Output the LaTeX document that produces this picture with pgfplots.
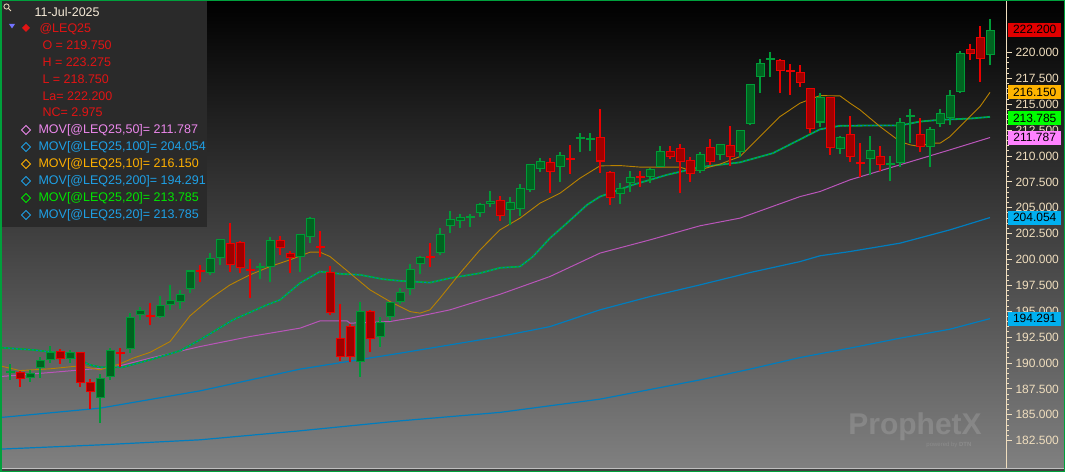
\documentclass[border=0pt]{standalone}
\usepackage{pgfplots}
\pgfplotsset{compat=1.18}
\usepackage{pgfplotstable}
\usepackage{fontspec}
\setmainfont{Liberation Sans}

\definecolor{upedge}{RGB}{0,155,55}
\definecolor{upfill}{RGB}{0,100,32}
\definecolor{dnedge}{RGB}{235,0,0}
\definecolor{dnfill}{RGB}{160,0,0}
\definecolor{maten}{RGB}{185,130,0}
\definecolor{matwenty}{RGB}{0,175,40}
\definecolor{mablue}{RGB}{0,125,190}
\definecolor{mafifty}{RGB}{185,85,185}
\definecolor{cream}{RGB}{240,222,190}
\definecolor{bgbot}{RGB}{128,128,128}
\definecolor{legbg}{RGB}{42,42,42}
\definecolor{legred}{RGB}{225,20,20}
\definecolor{legpink}{RGB}{235,135,235}
\definecolor{legblue}{RGB}{30,160,230}
\definecolor{legorange}{RGB}{255,176,0}
\definecolor{leggreen}{RGB}{0,230,0}
\definecolor{frame}{RGB}{0,160,60}
\definecolor{tagred}{RGB}{225,0,0}
\definecolor{tagorange}{RGB}{255,180,0}
\definecolor{taggreen}{RGB}{0,255,0}
\definecolor{tagpink}{RGB}{255,130,255}
\definecolor{tagblue}{RGB}{0,176,240}

% up candles (green): index, open, high, low, close
\pgfplotstableread{
k O H L C
1 189.05 189.92 188.38 189.15
3 188.54 189.34 188.21 189.08
4 189.51 190.63 188.54 190.31
5 190.31 191.66 189.99 191.11
7 190.38 191.27 190.05 191.11
10 186.61 188.95 184.19 188.54
11 188.69 191.44 188.37 191.27
13 191.37 194.82 191.00 194.43
14 194.66 195.40 194.17 195.14
16 194.43 196.49 194.34 195.62
17 195.62 197.55 195.14 196.10
18 195.94 197.07 195.21 196.68
19 197.14 199.00 196.75 198.94
21 198.74 200.62 198.52 200.13
22 200.13 202.00 199.49 201.97
26 199.20 199.65 198.11 199.30
27 199.32 202.16 197.87 201.90
30 200.29 202.48 198.84 202.45
31 202.22 204.09 201.64 203.99
36 190.14 195.85 188.64 195.07
38 192.56 194.43 191.59 193.95
39 194.43 195.90 194.10 195.88
40 195.85 197.24 195.72 196.91
41 197.14 199.58 196.59 199.07
42 199.58 200.36 198.62 200.23
44 200.62 203.03 200.45 202.48
45 203.26 204.73 202.55 203.93
46 203.77 204.42 203.03 204.15
47 204.10 204.42 203.19 204.20
48 204.48 205.45 204.09 205.38
49 205.38 206.67 205.12 205.70
51 204.80 206.03 203.35 205.60
52 204.87 207.31 204.22 206.90
53 206.73 209.25 206.57 209.22
54 208.73 209.79 208.50 209.53
56 208.93 210.43 207.54 210.11
58 211.70 212.27 210.43 211.80
59 211.60 212.27 210.53 211.70
62 206.35 207.38 205.38 206.90
63 207.38 208.57 206.57 208.02
65 207.96 208.83 207.38 208.73
66 208.98 210.98 208.93 210.53
70 208.57 210.43 208.34 210.21
72 210.11 211.20 209.63 211.15
74 210.43 212.55 209.89 212.53
75 213.11 217.00 213.02 216.98
76 217.62 219.36 216.08 219.03
77 219.30 220.10 217.62 219.40
82 213.24 216.08 212.85 215.69
84 210.67 211.95 210.21 211.88
87 209.70 211.95 208.18 210.60
89 209.20 210.02 207.63 209.30
90 209.37 213.66 208.98 213.33
91 213.80 214.53 211.24 213.90
93 210.86 212.79 208.93 212.63
94 213.11 214.53 212.85 214.14
95 213.66 216.40 213.02 215.91
96 216.23 220.19 216.08 220.00
99 219.75 223.275 218.75 222.20
}\up

% down candles (red)
\pgfplotstableread{
k O H L C
2 189.12 189.20 187.73 188.47
6 191.21 191.37 189.92 190.38
8 191.05 191.10 187.73 188.06
9 188.15 188.44 185.57 187.24
12 191.00 191.44 189.66 190.90
15 194.55 195.79 193.69 194.45
20 198.90 199.49 197.87 198.80
23 201.58 203.52 198.84 199.49
24 201.74 201.80 198.69 199.17
25 199.05 200.04 196.27 198.95
28 201.90 202.29 200.45 201.10
29 200.62 200.84 198.68 200.13
32 201.25 202.77 200.23 201.15
33 198.84 199.39 194.66 194.82
34 192.40 195.72 190.24 190.57
35 193.59 193.79 190.14 190.57
37 195.07 195.10 191.11 192.34
43 200.30 201.58 199.32 200.20
50 205.77 206.15 203.77 204.22
55 209.41 209.79 206.47 208.44
57 209.80 211.08 208.28 209.70
60 211.83 214.56 208.40 209.47
61 208.50 208.55 205.28 205.93
64 208.00 208.60 207.05 207.90
67 210.53 210.98 209.70 209.89
68 210.82 211.18 206.41 209.41
69 209.63 209.89 207.54 208.25
71 210.86 211.63 209.15 209.41
73 211.08 212.92 209.05 209.89
78 219.29 219.36 216.08 218.26
79 218.30 218.91 215.91 218.20
80 218.11 218.81 216.71 217.04
81 216.56 216.60 212.27 212.60
83 215.69 215.70 210.11 210.76
85 212.14 213.88 209.47 209.89
86 209.40 211.30 208.02 209.30
88 210.05 210.98 208.60 209.15
92 212.14 213.66 210.43 210.86
97 220.33 220.84 219.29 219.87
98 221.55 222.58 217.20 219.36
}\down

\pgfplotsset{
  wick/.style={draw=none, forget plot, error bars/.cd, y dir=both, y explicit,
    error mark=none, error bar style={line width=2pt, draw=#1}},
  body/.style 2 args={draw=none, forget plot, error bars/.cd, y dir=both, y explicit,
    error mark=none, error bar style={line width=#2, draw=#1}},
}
\tikzset{tag/.style={anchor=west, xshift=2pt, inner sep=0pt, minimum width=53pt,
  minimum height=14pt, text=black, font=\fontsize{12}{14}\selectfont, fill=#1}}

\begin{document}
\begin{tikzpicture}[x=1pt,y=1pt]
\useasboundingbox (0,0) rectangle (1065,472);
\shade[top color=black, bottom color=bgbot] (0,4) rectangle (1065,472);
\fill[black!75] (0,0) rectangle (1065,4);
\draw[black!25, line width=1pt] (0,4) -- (1065,4);

\begin{axis}[
  at={(0,4)}, anchor=south west,
  width=1006pt, height=468pt, scale only axis,
  xmin=0, xmax=100.6, ymin=179.87, ymax=225.09,
  axis x line=none, axis y line*=right,
  y axis line style={draw=cream, line width=1pt, -},
  ytick={182.5,185,187.5,190,192.5,195,197.5,200,202.5,205,207.5,210,212.5,215,217.5,220},
  minor y tick num=4,
  tick align=outside, major tick length=6pt, minor tick length=3pt,
  tick style={draw=cream, line width=1pt},
  yticklabel style={font=\fontsize{12}{14}\selectfont, text=cream,
    /pgf/number format/.cd, fixed, fixed zerofill, precision=3, assume math mode=true},
  clip mode=individual,
]
% moving averages
\addplot[mablue, line width=1.2pt] coordinates {
(0,181.68)(10,182.09)(20,182.58)(30,183.45)(40,184.41)(50,185.23)(60,186.51)
(70,188.37)(75,189.41)(80,190.53)(85,191.44)(90,192.40)(95,193.27)(99,194.291)};
\addplot[mablue, line width=1.2pt] coordinates {
(0,184.73)(10,185.64)(20,187.31)(30,189.41)(40,190.95)(50,192.56)(55,193.52)
(60,195.14)(65,196.42)(70,197.55)(75,198.74)(80,199.80)(82,200.36)(85,200.77)
(90,201.58)(95,202.87)(99,204.054)};
\addplot[mafifty, line width=1pt] coordinates {
(0,188.69)(5,189.08)(10,189.49)(12,189.73)(15,190.47)(20,191.59)(25,192.56)
(30,193.37)(32,194.07)(34.7,194.07)(35,193.85)(39,194.01)(41,194.33)(45,195.14)
(50,196.64)(55,198.36)(60,200.62)(65,201.90)(70,203.26)(74,204.00)(80,206.08)
(82,206.57)(85,207.70)(90,209.15)(95,210.60)(99,211.787)};
\addplot[matwenty, line width=1.8pt] coordinates {
(0,191.49)(3.3,191.27)(6.7,190.89)(9,189.82)(10,189.60)(12.3,189.60)(15,190.31)
(18,191.18)(20,192.24)(23.3,194.17)(26.7,195.62)(28,196.10)(30,197.72)(32,198.84)
(34,198.62)(36,198.52)(38.3,198.10)(40,197.94)(43,197.77)(45,198.20)(48,198.68)
(50,199.20)(52,199.32)(53.3,200.29)(55,202.07)(56.7,203.52)(58.7,205.28)(60,206.08)
(63.3,207.22)(66.7,208.18)(70,208.93)(74,209.39)(77.3,210.28)(80.7,211.95)(82,212.58)
(84,212.92)(87.3,212.95)(90,212.95)(92,213.33)(94,213.50)(97,213.62)(99,213.785)};
\addplot[mablue, line width=1pt, dash pattern=on 2pt off 2pt] coordinates {
(0,191.49)(3.3,191.27)(6.7,190.89)(9,189.82)(10,189.60)(12.3,189.60)(15,190.31)
(18,191.18)(20,192.24)(23.3,194.17)(26.7,195.62)(28,196.10)(30,197.72)(32,198.84)
(34,198.62)(36,198.52)(38.3,198.10)(40,197.94)(43,197.77)(45,198.20)(48,198.68)
(50,199.20)(52,199.32)(53.3,200.29)(55,202.07)(56.7,203.52)(58.7,205.28)(60,206.08)
(63.3,207.22)(66.7,208.18)(70,208.93)(74,209.39)(77.3,210.28)(80.7,211.95)(82,212.58)
(84,212.92)(87.3,212.95)(90,212.95)(92,213.33)(94,213.50)(97,213.62)(99,213.785)};
\addplot[maten, line width=0.9pt] coordinates {
(0,189.73)(2,189.27)(5,189.44)(8,189.73)(10,189.34)(12,189.92)(13.3,190.47)
(15,191.03)(17,192.07)(19,194.56)(21,196.20)(23,197.55)(25,198.52)(27,199.32)
(29,199.97)(31,200.71)(32,200.71)(33,200.29)(35,198.68)(37,197.07)(39,195.94)
(41,194.97)(42,194.82)(43,195.14)(44,196.27)(46,198.68)(48,200.93)(50,202.87)
(52,204.00)(54,205.45)(56,206.41)(58,207.86)(60,209.05)(62,209.08)(64,208.93)
(66,208.93)(68,208.93)(69,208.60)(70,208.67)(72,209.22)(74,209.95)(76,211.88)
(78,213.81)(80,215.11)(82,215.84)(84,215.81)(85,215.11)(86,214.46)(88,212.85)
(90,211.40)(91,211.08)(92,210.92)(93,211.24)(94,211.24)(95,211.88)(97,213.81)
(98,214.78)(99,216.15)};

% candles: wicks, then bodies
\addplot[wick=upedge] table[x=k, y expr=(\thisrow{H}+\thisrow{L})/2,
  y error expr=(\thisrow{H}-\thisrow{L})/2] {\up};
\addplot[wick=dnedge] table[x=k, y expr=(\thisrow{H}+\thisrow{L})/2,
  y error expr=(\thisrow{H}-\thisrow{L})/2] {\down};
\addplot[body={upedge}{9pt}] table[x=k, y expr=(\thisrow{O}+\thisrow{C})/2,
  y error expr={max(abs(\thisrow{C}-\thisrow{O})/2,0.1)}] {\up};
\addplot[body={dnedge}{9pt}] table[x=k, y expr=(\thisrow{O}+\thisrow{C})/2,
  y error expr={max(abs(\thisrow{C}-\thisrow{O})/2,0.1)}] {\down};
\addplot[body={upfill}{7pt}] table[x=k, y expr=(\thisrow{O}+\thisrow{C})/2,
  y error expr={max(abs(\thisrow{C}-\thisrow{O})/2-0.1,0)}] {\up};
\addplot[body={dnfill}{7pt}] table[x=k, y expr=(\thisrow{O}+\thisrow{C})/2,
  y error expr={max(abs(\thisrow{C}-\thisrow{O})/2-0.1,0)}] {\down};

% last-value tags on the price scale
\node[tag=tagred] at (axis cs:100.6,222.2) {222.200};
\node[tag=tagorange] at (axis cs:100.6,216.15) {216.150};
\node[tag=taggreen] at (axis cs:100.6,213.66) {213.785};
\node[tag=tagpink] at (axis cs:100.6,211.787) {211.787};
\node[tag=tagblue] at (axis cs:100.6,204.054) {204.054};
\node[tag=tagblue] at (axis cs:100.6,194.291) {194.291};
\end{axis}

% watermark
\node[anchor=center, text=white, opacity=0.14, font=\bfseries\fontsize{30}{32}\selectfont] at (915,45) {ProphetX};
\node[anchor=east, text=white, opacity=0.14, font=\fontsize{6}{7}\selectfont] at (975,27) {powered by \textbf{DTN}};

% data window
\fill[legbg] (2,245) rectangle (207,471);
\draw[cream, line width=0.8pt] (6.5,465.5) circle (2.6);
\draw[cream, line width=0.8pt] (8.4,463.6) -- (11,461);
\node[anchor=west, text=cream!60!white, font=\fontsize{12.5}{14}\selectfont] at (31,460) {11-Jul-2025};
\fill[blue!55!white] (9,448) -- (15,448) -- (12,443.5) -- cycle;
\fill[legred] (26,448) -- (30,444) -- (26,440) -- (22,444) -- cycle;
\begin{scope}[every node/.style={anchor=west, text=legred, font=\fontsize{12.5}{14}\selectfont}]
\node at (36,443) {@LEQ25};
\node at (39,427) {O = 219.750};
\node at (39,410) {H = 223.275};
\node at (39,393) {L = 218.750};
\node at (39,376) {La= 222.200};
\node at (39,360) {NC= 2.975};
\end{scope}
\foreach \yy/\cc/\tt in {342/legpink/{MOV[@LEQ25,50]= 211.787},
                         325/legblue/{MOV[@LEQ25,100]= 204.054},
                         308/legorange/{MOV[@LEQ25,10]= 216.150},
                         291/legblue/{MOV[@LEQ25,200]= 194.291},
                         274/leggreen/{MOV[@LEQ25,20]= 213.785},
                         257/legblue/{MOV[@LEQ25,20]= 213.785}}{
  \draw[\cc, line width=1pt] (26,\yy+4.5) -- (30.5,\yy) -- (26,\yy-4.5) -- (21.5,\yy) -- cycle;
  \node[anchor=west, text=\cc, font=\fontsize{12.5}{14}\selectfont] at (35,\yy) {\tt};
}

\draw[frame, line width=1.5pt] (0.75,0.75) rectangle (1064.25,471.25);
\end{tikzpicture}
\end{document}
